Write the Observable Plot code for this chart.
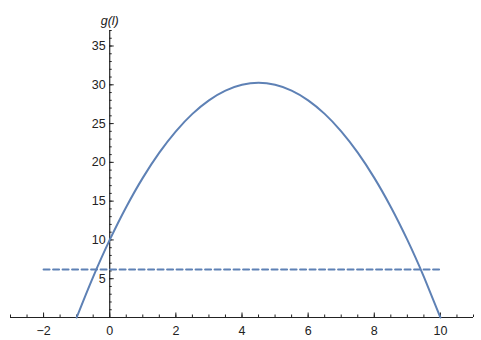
<!DOCTYPE html>
<html>
<head>
<meta charset="utf-8">
<script src="https://cdn.jsdelivr.net/npm/d3@7"></script>
<script src="https://cdn.jsdelivr.net/npm/@observablehq/plot@0.6"></script>
<style>
  html, body { margin: 0; padding: 0; background: #fff; }
  #chart svg { display: block; }
</style>
</head>
<body>
<div id="chart"></div>
<script>
// Curve g(l)
const lValues = [-1, -0.5, 0, 0.5, 1, 1.5, 2, 2.5, 3, 3.5, 4, 4.5, 5, 5.5, 6, 6.5, 7, 7.5, 8, 8.5, 9, 9.5, 10];
const gValues = [0, 5.25, 10, 14.25, 18, 21.25, 24, 26.25, 28, 29.25, 30, 30.25, 30, 29.25, 28, 26.25, 24, 21.25, 18, 14.25, 10, 5.25, 0];
// Dashed horizontal level
const levelX = [-2, 10];
const levelY = 6.2;
// Ticks
const xMajorTicks = [-2, 0, 2, 4, 6, 8, 10];
const xMinorTicks = [-3, -2.5, -2, -1.5, -1, -0.5, 0, 0.5, 1, 1.5, 2, 2.5, 3, 3.5, 4, 4.5, 5, 5.5, 6, 6.5, 7, 7.5, 8, 8.5, 9, 9.5, 10, 10.5, 11];
const yMajorTicks = [5, 10, 15, 20, 25, 30, 35];
const yMinorTicks = d3.range(1, 38);
const yLabel = "g(l)";

const curve = lValues.map((l, i) => ({l, g: gValues[i]}));
const level = levelX.map(l => ({l, g: levelY}));

const W = 481, H = 340;
const mL = 10, mR = 8, mT = 30, mB = 23;
const xDomain = [-3, 11];
const yDomain = [0, 37];
const blue = "#5E81B5";
const axisColor = "#222";
// pixel offset of x=0 from the left frame edge
const x0px = (0 - xDomain[0]) / (xDomain[1] - xDomain[0]) * (W - mL - mR);

const chart = Plot.plot({
  width: W,
  height: H,
  marginLeft: mL,
  marginRight: mR,
  marginTop: mT,
  marginBottom: mB,
  style: {fontFamily: "Liberation Sans, Arial, sans-serif", fontSize: "12.5px", color: axisColor, background: "#fff"},
  x: {domain: xDomain},
  y: {domain: yDomain},
  marks: [
    // axis lines
    Plot.ruleY([0], {stroke: axisColor, strokeWidth: 1.2}),
    Plot.ruleX([0], {stroke: axisColor, strokeWidth: 1.2}),
    // x ticks (pointing up)
    Plot.axisX({anchor: "bottom", ticks: xMinorTicks, tickSize: -2.5, fill: "none", stroke: axisColor, label: null}),
    Plot.axisX({anchor: "bottom", ticks: xMajorTicks, tickSize: -4.5, fill: "none", stroke: axisColor, label: null}),
    Plot.axisX({anchor: "bottom", ticks: xMajorTicks, tickSize: 0, tickPadding: 9, fill: axisColor, fontSize: 12.5, label: null}),
    // y ticks (pointing right) positioned at x = 0
    Plot.axisY({anchor: "left", ticks: yMinorTicks, tickSize: -2.5, dx: x0px, fill: "none", stroke: axisColor, label: null}),
    Plot.axisY({anchor: "left", ticks: yMajorTicks, tickSize: -4.5, dx: x0px, fill: "none", stroke: axisColor, label: null}),
    Plot.text(yMajorTicks, {x: 0, y: d => d, text: d => String(d), textAnchor: "end", dx: -4, fill: axisColor, fontSize: 12.5}),
    // axis label
    Plot.text([yLabel], {x: 0, frameAnchor: "top", dy: -14, text: d => d, fontStyle: "italic", fontSize: 12.5, fill: axisColor}),
    // dashed level
    Plot.line(level, {x: "l", y: "g", stroke: blue, strokeWidth: 2, strokeDasharray: "6,3.5"}),
    // curve
    Plot.line(curve, {x: "l", y: "g", stroke: blue, strokeWidth: 2, curve: "catmull-rom"})
  ]
});
document.getElementById("chart").appendChild(chart);
</script>
</body>
</html>
